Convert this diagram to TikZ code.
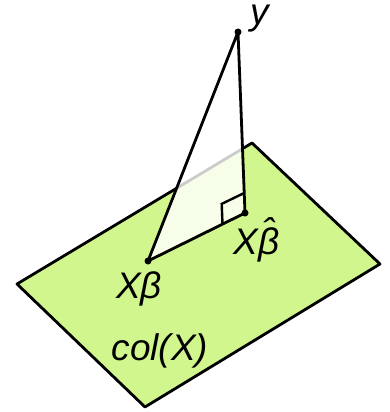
\documentclass[tikz,border=0pt]{standalone}
\usepackage{fontspec}
\setmainfont{Liberation Sans}
\usetikzlibrary{calc}
\newcommand\hatbeta{\leavevmode\setbox0\hbox{β}\hbox to \wd0{\hss\raisebox{0.25em}{\char"02C6}\hss}\kern-\wd0\box0}
\definecolor{planegreen}{RGB}{210,246,142}
\tikzset{
  lbl/.style={inner sep=0pt, anchor=base, font=\fontsize{37}{37}\selectfont\itshape},
  edge/.style={line width=2.8pt, line join=round, line cap=round},
  dot/.style={circle, fill=black, inner sep=0pt, minimum size=7pt}
}
\begin{document}
\begin{tikzpicture}[x=1pt, y=-1pt]
\useasboundingbox (0,0) rectangle (390,412);
% plane corners
\coordinate (pl) at (17,284);
\coordinate (pt) at (252,143);
\coordinate (pr) at (380,264);
\coordinate (pb) at (145,407);
\draw[edge, fill=planegreen] (pl) -- (pt) -- (pr) -- (pb) -- cycle;
% points
\coordinate (y) at (238,32);
\coordinate (xb) at (148,261);
\coordinate (xh) at (245,213);
% triangle
\fill[white, opacity=0.8] (y) -- (xb) -- (xh) -- cycle;
\draw[edge] (y) -- (xb) -- (xh) -- cycle;
% right angle marker
\coordinate (ra1) at ($(xh)+(-22.5,10.9)$);
\coordinate (ra2) at ($(ra1)+(-0.8,-20)$);
\coordinate (ra3) at ($(xh)+(-0.8,-20)$);
\draw[line width=2.4pt, line join=miter] (ra1) -- (ra2) -- (ra3);
% dots
\node[dot] (dy) at (y) {};
\node[dot] (dxb) at (xb) {};
\node[dot] (dxh) at (xh) {};
% labels
\node[lbl] (ly) at (260,25) {y};
\node[lbl] (lxb) at (139,298) {Xβ};
\node[lbl] (lxh) at (256.5,254) {X\hatbeta};
\node[lbl] (lcol) at (160,360) {col(X)};
\end{tikzpicture}
\end{document}
